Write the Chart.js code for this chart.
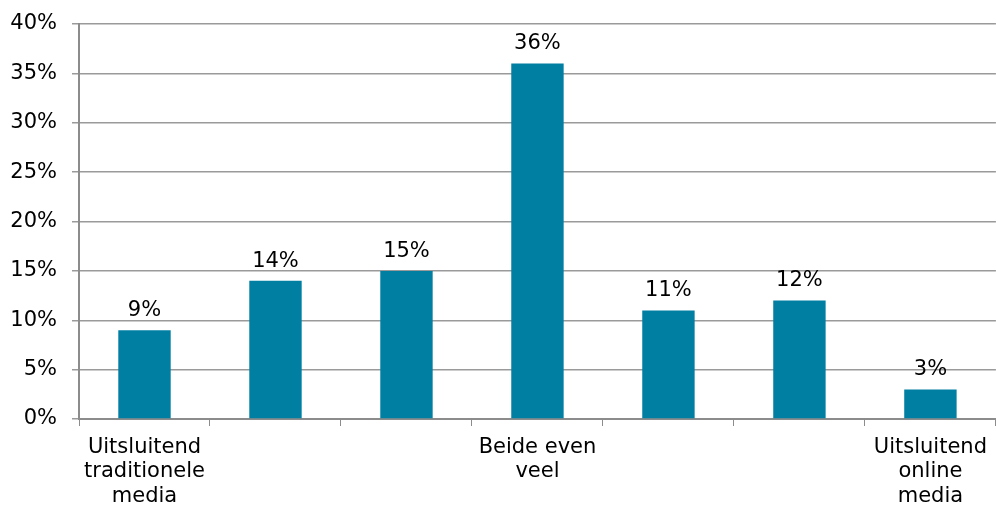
<!DOCTYPE html>
<html>
<head>
<meta charset="utf-8">
<script src="https://cdn.jsdelivr.net/npm/chart.js@4"></script>
<style>
  html, body { margin: 0; padding: 0; background: #fff; }
  #wrap { width: 996px; height: 507px; }
</style>
</head>
<body>
<div id="wrap"><canvas id="chart"></canvas></div>
<script>
// Categories (only first, middle and last carry a label)
const categories = [
    ['Uitsluitend', 'traditionele', 'media'],
    '',
    '',
    ['Beide even', 'veel'],
    '',
    '',
    ['Uitsluitend', 'online', 'media'],
];

// Share in percent
const shares = [9, 14, 15, 36, 11, 12, 3];

const barColor = '#007fa3';
const axisColor = '#8c8c8c';
const gridColor = '#9a9a9a';
const fontFamily = "'DejaVu Sans', Verdana, sans-serif";

// Draw value labels above the bars
const valueLabels = {
    id: 'valueLabels',
    afterDatasetsDraw(chart) {
        const ctx = chart.ctx;
        const meta = chart.getDatasetMeta(0);
        ctx.save();
        ctx.font = '21px ' + fontFamily;
        ctx.fillStyle = '#000';
        ctx.textAlign = 'center';
        ctx.textBaseline = 'bottom';
        meta.data.forEach((bar, i) => {
            ctx.fillText(shares[i] + '%', bar.x, bar.y - 9);
        });
        ctx.restore();
    }
};

new Chart(document.getElementById('chart'), {
    type: 'bar',
    plugins: [valueLabels],
    data: {
        labels: categories,
        datasets: [{
            data: shares,
            backgroundColor: barColor,
            categoryPercentage: 1,
            barPercentage: 0.4,
        }]
    },
    options: {
        responsive: true,
        maintainAspectRatio: false,
        animation: false,
        layout: { padding: { top: 24, right: 0, left: 0, bottom: 0 } },
        plugins: {
            legend: { display: false },
            tooltip: { enabled: false },
        },
        scales: {
            x: {
                grid: {
                    offset: true,
                    drawOnChartArea: false,
                    color: axisColor,
                    tickLength: 7,
                },
                border: { color: axisColor, width: 2 },
                ticks: {
                    autoSkip: false,
                    maxRotation: 0,
                    color: '#000',
                    font: { family: fontFamily, size: 21, lineHeight: 1.17 },
                    padding: 9,
                },
                afterFit(scale) { scale.height = 88; },
            },
            y: {
                min: 0,
                max: 40,
                grid: {
                    color: gridColor,
                    lineWidth: 1.5,
                    tickLength: 7,
                },
                border: { color: axisColor, width: 2 },
                ticks: {
                    stepSize: 5,
                    color: '#000',
                    padding: 15,
                    font: { family: fontFamily, size: 21 },
                    callback: v => v + '%',
                },
                afterFit(scale) {
                    scale.width = 79;
                    scale.paddingTop = 0;
                    scale.paddingBottom = 0;
                },
            }
        }
    }
});
</script>
</body>
</html>
